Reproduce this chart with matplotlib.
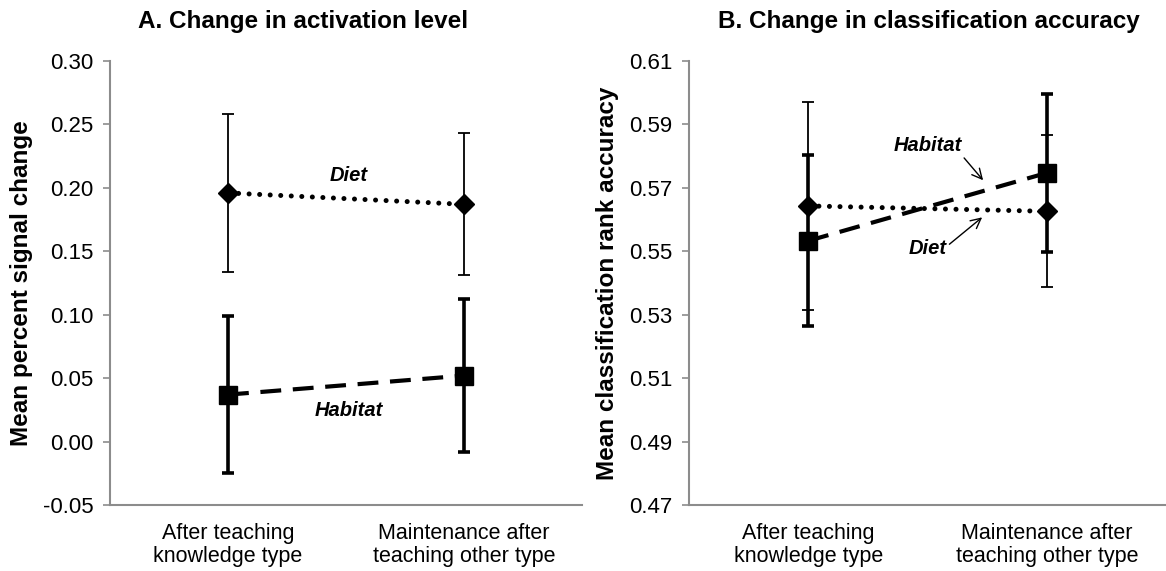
import numpy as np
import matplotlib
matplotlib.use("Agg")
import matplotlib.pyplot as plt

plt.rcParams['font.family'] = ['Liberation Sans', 'DejaVu Sans']

# Conditions on the x axis
conditions = ["After teaching\nknowledge type", "Maintenance after\nteaching other type"]

# Panel A: mean percent signal change
act_diet = [0.196, 0.187]
act_diet_err = [0.062, 0.056]
act_habitat = [0.037, 0.052]
act_habitat_err = [0.062, 0.060]

# Panel B: mean classification rank accuracy
acc_diet = [0.5643, 0.5626]
acc_diet_err = [0.0327, 0.0240]
acc_habitat = [0.5533, 0.5747]
acc_habitat_err = [0.0270, 0.0250]

SPINE = "#8c8c8c"
DOTTED = (0, (0.01, 2.1))
DASHED = (0, (5, 2.8))


def style_axes(ax, ylim, yticks, fmt, ylabel):
    ax.set_xlim(-0.5, 1.5)
    ax.set_ylim(*ylim)
    ax.set_yticks(yticks)
    ax.set_yticklabels([fmt.format(v) for v in yticks], fontsize=16)
    ax.set_xticks([0, 1])
    ax.set_xticklabels(conditions, fontsize=15.5, linespacing=1.15)
    ax.tick_params(axis='x', length=0, pad=13)
    ax.tick_params(axis='y', length=5, color=SPINE, width=1.2, pad=7)
    for s in ["top", "right"]:
        ax.spines[s].set_visible(False)
    for s in ["left", "bottom"]:
        ax.spines[s].set_color(SPINE)
        ax.spines[s].set_linewidth(1.5)
    ax.set_ylabel(ylabel, fontsize=17.5, fontweight="bold", labelpad=7)


def draw_series(ax, y, err, marker, ms, ls, lw, elw, z):
    x = np.arange(len(y))
    ax.errorbar(x, y, yerr=err, fmt="none", ecolor="black", elinewidth=elw,
                capsize=4.5, capthick=elw, zorder=z)
    ax.plot(x, y, color="black", linestyle=ls, linewidth=lw,
            dash_capstyle="round" if ls is DOTTED else "butt", zorder=z + 1)
    ax.plot(x, y, color="black", linestyle="none", marker=marker,
            markersize=ms, zorder=z + 2)


fig = plt.figure(figsize=(11.66, 5.71), dpi=100)
ax1 = fig.add_axes([0.0943, 0.1156, 0.405, 0.7776])
ax2 = fig.add_axes([0.591, 0.1156, 0.409, 0.7776])

# Panel A
draw_series(ax1, act_diet, act_diet_err, "D", 10, DOTTED, 3.6, 1.3, 2)
draw_series(ax1, act_habitat, act_habitat_err, "s", 13.5, DASHED, 3, 2.6, 5)
style_axes(ax1, (-0.05, 0.30), np.arange(-0.05, 0.301, 0.05), "{:.2f}",
           "Mean percent signal change")
ax1.text(0.51, 0.2096, "Diet", fontsize=14.5, fontweight="bold", style="italic",
         ha="center", va="center")
ax1.text(0.51, 0.0247, "Habitat", fontsize=14.5, fontweight="bold", style="italic",
         ha="center", va="center")

# Panel B
draw_series(ax2, acc_diet, acc_diet_err, "D", 10, DOTTED, 3.6, 1.3, 2)
draw_series(ax2, acc_habitat, acc_habitat_err, "s", 13.5, DASHED, 3, 2.6, 5)
style_axes(ax2, (0.47, 0.61), np.arange(0.47, 0.611, 0.02), "{:.2f}",
           "Mean classification rank accuracy")
ax2.annotate("Habitat", xy=(0.733, 0.5724), xytext=(0.50, 0.5833),
             fontsize=14.5, fontweight="bold", style="italic", ha="center", va="center",
             arrowprops=dict(arrowstyle="->", color="black", lw=1,
                             shrinkA=0, shrinkB=0, mutation_scale=18,
                             relpos=(1.0, 0.0)))
ax2.annotate("Diet", xy=(0.729, 0.5607), xytext=(0.50, 0.5509),
             fontsize=14.5, fontweight="bold", style="italic", ha="center", va="center",
             arrowprops=dict(arrowstyle="->", color="black", lw=1,
                             shrinkA=0, shrinkB=0, mutation_scale=18,
                             relpos=(1.0, 0.6)))

fig.text(0.26, 0.963, "A. Change in activation level", fontsize=17.5,
         fontweight="bold", ha="center", va="center")
fig.text(0.797, 0.963, "B. Change in classification accuracy", fontsize=17.5,
         fontweight="bold", ha="center", va="center")

fig.savefig("out.png", dpi=100)
